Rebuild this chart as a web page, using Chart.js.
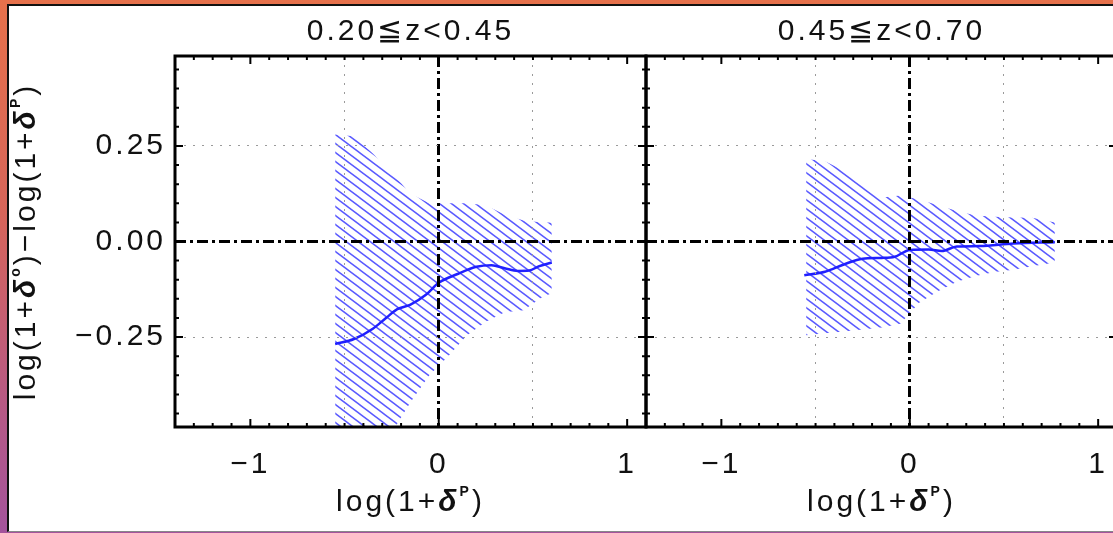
<!DOCTYPE html>
<html>
<head>
<meta charset="utf-8">
<script src="https://cdn.jsdelivr.net/npm/chart.js@4.4.1/dist/chart.umd.min.js"></script>
<style>
html,body{margin:0;padding:0;width:1113px;height:533px;overflow:hidden;}
body{position:relative;background:linear-gradient(to bottom,#e6714b 0%,#d6655a 40%,#b85a84 75%,#a4549c 100%);}
#sheet{position:absolute;left:7px;top:4px;width:1200px;height:525px;background:#fff;border-left:2px solid #111;border-top:2px solid #111;border-bottom:1px solid #888;}
canvas{position:absolute;left:0;top:0;}
</style>
</head>
<body>
<div id="sheet"></div>
<canvas id="panelLow" width="1113" height="533"></canvas>
<canvas id="panelHigh" width="1140" height="533"></canvas>
<script>
// 0.20 <= z < 0.45
const bandXLow   = [-0.55, -0.45, -0.35, -0.25, -0.15, -0.05, 0.05, 0.15, 0.25, 0.35, 0.45, 0.55, 0.6];
const upperLow   = [0.28, 0.275, 0.23, 0.18, 0.125, 0.1, 0.1, 0.1, 0.095, 0.07, 0.055, 0.05, 0.05];
const lowerLow   = [-0.7, -0.65, -0.58, -0.5, -0.42, -0.35, -0.3, -0.245, -0.21, -0.185, -0.18, -0.145, -0.135];
const medXLow    = [-0.55, -0.45, -0.35, -0.28, -0.22, -0.15, -0.07, 0, 0.1, 0.2, 0.28, 0.35, 0.42, 0.48, 0.53, 0.6];
const medLow     = [-0.268, -0.255, -0.228, -0.2, -0.177, -0.165, -0.14, -0.108, -0.085, -0.066, -0.062, -0.07, -0.077, -0.076, -0.065, -0.055];

// 0.45 <= z < 0.70
const bandXHigh  = [-0.55, -0.45, -0.35, -0.25, -0.15, -0.05, 0.05, 0.15, 0.25, 0.35, 0.45, 0.55, 0.65, 0.77];
const upperHigh  = [0.216, 0.21, 0.185, 0.15, 0.115, 0.12, 0.11, 0.095, 0.08, 0.068, 0.065, 0.063, 0.062, 0.05];
const lowerHigh  = [-0.245, -0.24, -0.235, -0.23, -0.225, -0.215, -0.16, -0.13, -0.105, -0.09, -0.08, -0.074, -0.065, -0.055];
const medXHigh   = [-0.56, -0.45, -0.35, -0.25, -0.15, -0.08, 0, 0.1, 0.17, 0.25, 0.37, 0.55, 0.77];
const medHigh    = [-0.088, -0.079, -0.06, -0.045, -0.043, -0.04, -0.022, -0.021, -0.025, -0.013, -0.012, -0.005, -0.002];

const xTickVals = [-1, -0.5, 0, 0.5, 1];
const yTickVals = [-0.25, 0, 0.25];

const FONT = '"Liberation Sans", Arial, Helvetica, sans-serif';
const pts = (xs, ys) => xs.map((x, i) => ({x: x, y: ys[i]}));
const minus = s => s.replace('-', '\u2212');

function hatch() {
  const c = document.createElement('canvas');
  c.width = 12; c.height = 9;
  const g = c.getContext('2d');
  g.strokeStyle = 'rgba(60,60,255,0.85)';
  g.lineWidth = 1.5;
  [-9, 0, 9].forEach(off => {
    g.beginPath(); g.moveTo(-2, off - 1.5); g.lineTo(14, off + 10.5); g.stroke();
  });
  return g.createPattern(c, 'repeat');
}

function richText(ctx, runs, x, y, rot) {
  ctx.save();
  ctx.translate(x, y); ctx.rotate(rot);
  ctx.fillStyle = '#111'; ctx.textBaseline = 'middle'; ctx.textAlign = 'left';
  let w = 0;
  runs.forEach(r => { ctx.font = r.f; r.w = ctx.measureText(r.t).width; w += r.w; });
  let cx = -w / 2;
  runs.forEach(r => { ctx.font = r.f; ctx.fillText(r.t, cx, r.dy || 0); cx += r.w; });
  ctx.restore();
}

const F = '30px ' + FONT, D = 'italic bold 30px ' + FONT, S = 'bold 14px ' + FONT;
const xTitle = [{t:'log(1+', f:F}, {t:'\u03b4', f:D}, {t:'P', f:S, dy:-11}, {t:')', f:F}];
const yTitle = [{t:'log(1+', f:F}, {t:'\u03b4', f:D}, {t:'o', f:S, dy:-11}, {t:')\u2212log(1+', f:F},
                {t:'\u03b4', f:D}, {t:'P', f:S, dy:-11}, {t:')', f:F}];

const idlAxes = {
  id: 'idlAxes',
  beforeUpdate(chart) { chart.ctx.letterSpacing = '3px'; },
  beforeDraw(chart) { chart.ctx.letterSpacing = '3px'; },
  afterDraw(chart, args, opts) {
    const {ctx, chartArea: a, scales: {x, y}} = chart;
    ctx.save();
    ctx.strokeStyle = '#000';
    ctx.lineWidth = 2;
    ctx.beginPath();
    for (let i = Math.ceil(x.min * 10); i <= Math.floor(x.max * 10); i++) {
      const px = x.getPixelForValue(i / 10);
      const len = i % 10 === 0 ? 8 : 4;
      ctx.moveTo(px, a.bottom); ctx.lineTo(px, a.bottom - len);
      ctx.moveTo(px, a.top); ctx.lineTo(px, a.top + len);
    }
    for (let j = Math.ceil(y.min * 20); j <= Math.floor(y.max * 20); j++) {
      const py = y.getPixelForValue(j / 20);
      const len = j % 5 === 0 ? 8 : 4;
      ctx.moveTo(a.left, py); ctx.lineTo(a.left + len, py);
      ctx.moveTo(a.right, py); ctx.lineTo(a.right - len, py);
    }
    ctx.stroke();
    ctx.lineWidth = 3;
    ctx.strokeRect(a.left, a.top, a.right - a.left, a.bottom - a.top);
    ctx.restore();
    richText(ctx, xTitle, (a.left + a.right) / 2, 503, 0);
    if (opts.yTitle) richText(ctx, yTitle, 27, (a.top + a.bottom) / 2, -Math.PI / 2);
  }
};

const gridColor = c => c.tick.value === 0 ? '#000' : (Math.abs(c.tick.value) === 1 ? 'rgba(0,0,0,0)' : '#9a9a9a');
const gridWidth = c => c.tick.value === 0 ? 3 : 1;
const gridDash = c => c.tick.value === 0 ? [11, 4, 3, 4] : [2, 7];

function makeChart(id, title, bandX, upper, lower, medX, med, showY, padRight) {
  return new Chart(document.getElementById(id), {
    type: 'line',
    data: {
      datasets: [
        {data: pts(medX, med), borderColor: '#2020ff', borderWidth: 2.5, pointRadius: 0,
         fill: false, tension: 0.4, cubicInterpolationMode: 'monotone'},
        {data: pts(bandX, upper), borderWidth: 0, pointRadius: 0, fill: '+1', backgroundColor: hatch()},
        {data: pts(bandX, lower), borderWidth: 0, pointRadius: 0, fill: false}
      ]
    },
    options: {
      responsive: false, animation: false, events: [], devicePixelRatio: 1,
      layout: {padding: {left: 0, top: 0, bottom: 0, right: padRight}},
      plugins: {
        legend: {display: false}, tooltip: {enabled: false},
        title: {display: true, text: title, fullSize: false, color: '#111',
                font: {family: FONT, size: 30, weight: 'normal', lineHeight: 1.2}, padding: {top: 14, bottom: 6}},
        idlAxes: {yTitle: showY}
      },
      scales: {
        x: {
          type: 'linear', min: -1.4, max: 1.1,
          afterBuildTicks: s => { s.ticks = xTickVals.map(v => ({value: v})); },
          afterFit: s => { s.height = 106; },
          ticks: {autoSkip: false, maxRotation: 0, padding: 20, color: '#111',
                  font: {family: FONT, size: 30},
                  callback: v => Number.isInteger(v) ? minus(String(v)) : ''},
          grid: {z: 1, drawTicks: false, color: gridColor, lineWidth: gridWidth},
          border: {display: false, dash: gridDash}
        },
        y: {
          min: -0.485, max: 0.485,
          afterBuildTicks: s => { s.ticks = yTickVals.map(v => ({value: v})); },
          afterFit: s => { s.width = showY ? 175 : 646; },
          ticks: {display: showY, autoSkip: false, padding: 9, color: '#111',
                  font: {family: FONT, size: 30},
                  callback: v => minus(v.toFixed(2))},
          grid: {z: 1, drawTicks: false, color: gridColor, lineWidth: gridWidth},
          border: {display: false, dash: gridDash}
        }
      }
    },
    plugins: [idlAxes]
  });
}

makeChart('panelLow', '0.20\u2266z<0.45', bandXLow, upperLow, lowerLow, medXLow, medLow, true, 1113 - 646);
makeChart('panelHigh', '0.45\u2266z<0.70', bandXHigh, upperHigh, lowerHigh, medXHigh, medHigh, false, 1140 - 1117);
</script>
</body>
</html>
